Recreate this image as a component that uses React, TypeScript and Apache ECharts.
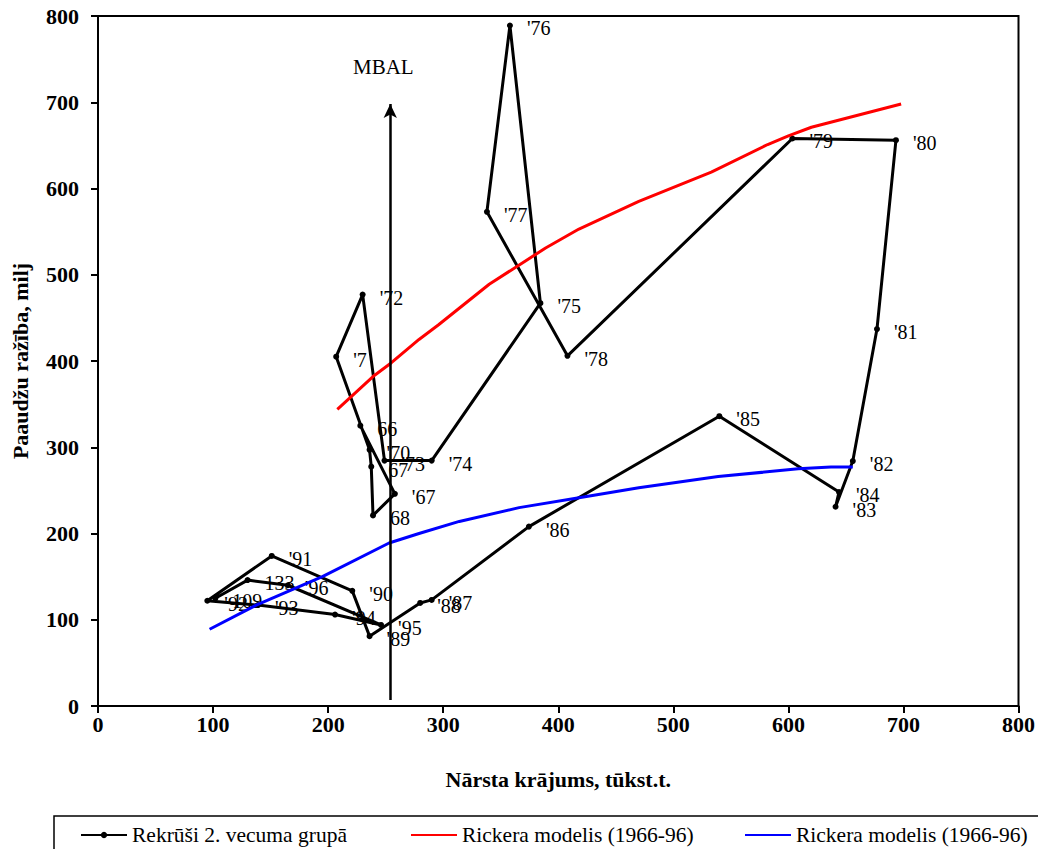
import React, { useEffect, useRef } from "react";
import * as echarts from "echarts";

// ---- data ----
const recruitLabels = [
  "66", "'67", "68", "67", "'70", "'7", "'72", "'73", "'74", "'75", "'76",
  "'77", "'78", "'79", "'80", "'81", "'82", "'83", "'84", "'85", "'86",
  "'87", "'88", "'89", "'90", "'91", "'92", "'93", "'94", "'95", "'96",
  "133", "109",
];
const recruitX = [
  228, 258, 239, 237.5, 236, 207, 230, 249, 290, 384.5, 358,
  338, 408, 603.5, 693.5, 677, 656, 641, 644, 540, 374.5,
  290, 280, 236, 221, 151, 95, 139, 206, 246, 165,
  130, 102,
];
const recruitY = [
  325, 246, 221, 277.5, 297, 405, 477, 284.5, 284.5, 467, 789,
  573, 406, 658, 656, 437, 284, 231, 248, 336, 208,
  123, 119.5, 81, 133.5, 174, 122, 117, 106, 94, 140,
  146, 125,
];

const rickerRedX = [208, 239, 255, 279, 296, 340, 389, 418, 470, 533, 582, 600, 620, 646, 698];
const rickerRedY = [344, 382, 398, 425, 442, 489, 531, 553, 585, 619, 651, 661, 671, 680, 698];

const rickerBlueX = [97, 137.5, 195, 253, 279, 314, 366, 418, 470, 539, 608.5, 637, 656];
const rickerBlueY = [89, 117, 150, 189, 200, 214, 230, 241.5, 253, 266, 275, 277, 277];

const MBAL = 254;
const MBAL_FROM = 7;
const MBAL_TO = 698;

const AXIS_MIN = 0;
const AXIS_MAX = 800;
const AXIS_STEP = 100;

const seriesNames = [
  "Rekrūši 2. vecuma grupā",
  "Rickera modelis (1966-96)",
  "Rickera modelis (1966-96) ",
];

export default function App() {
  const ref = useRef<HTMLDivElement>(null);

  useEffect(() => {
    const chart = echarts.init(ref.current!, null, { renderer: "svg" });
    const serif = "'Liberation Serif', 'Times New Roman', serif";

    const recruitData = recruitX.map((x, i) => ({
      value: [x, recruitY[i]],
      name: recruitLabels[i],
    }));
    const redData = rickerRedX.map((x, i) => [x, rickerRedY[i]]);
    const blueData = rickerBlueX.map((x, i) => [x, rickerBlueY[i]]);

    const legendCommon = {
      top: 819,
      itemWidth: 46,
      itemHeight: 8,
      formatter: (n: string) => n.trim(),
      textStyle: { fontFamily: serif, fontSize: 21.5, color: "#000" },
    };
    const plainIcon = {
      itemStyle: { color: "transparent", borderColor: "transparent", borderWidth: 0 },
    };

    chart.setOption({
      animation: false,
      backgroundColor: "#fff",
      grid: {
        left: 98,
        top: 16,
        right: 17,
        bottom: 143,
        show: true,
        borderColor: "#000",
        borderWidth: 2,
        backgroundColor: "transparent",
      },
      xAxis: {
        type: "value",
        min: AXIS_MIN,
        max: AXIS_MAX,
        interval: AXIS_STEP,
        name: "Nārsta krājums, tūkst.t.",
        nameLocation: "middle",
        nameGap: 62,
        nameTextStyle: { fontFamily: serif, fontWeight: "bold", fontSize: 22, color: "#000" },
        axisLine: { lineStyle: { color: "#000", width: 2 } },
        axisTick: { length: 7, lineStyle: { color: "#000", width: 2 } },
        axisLabel: { fontFamily: serif, fontWeight: "bold", fontSize: 22, color: "#000", margin: 7 },
        splitLine: { show: false },
      },
      yAxis: {
        type: "value",
        min: AXIS_MIN,
        max: AXIS_MAX,
        interval: AXIS_STEP,
        name: "Paaudžu ražība, milj",
        nameLocation: "middle",
        nameGap: 67,
        nameRotate: 90,
        nameTextStyle: { fontFamily: serif, fontWeight: "bold", fontSize: 22, color: "#000" },
        axisLine: { lineStyle: { color: "#000", width: 2 } },
        axisTick: { length: 7, lineStyle: { color: "#000", width: 2 } },
        axisLabel: { fontFamily: serif, fontWeight: "bold", fontSize: 22, color: "#000", margin: 19 },
        splitLine: { show: false },
      },
      legend: [
        { ...legendCommon, left: 75, data: [{ name: seriesNames[0] }] },
        { ...legendCommon, left: 405, data: [{ name: seriesNames[1], ...plainIcon }] },
        { ...legendCommon, left: 739, data: [{ name: seriesNames[2], ...plainIcon }] },
      ],
      graphic: [
        {
          type: "rect",
          shape: { x: 54, y: 816, width: 1000, height: 60 },
          style: { fill: "none", stroke: "#000", lineWidth: 1.5 },
          silent: true,
        },
      ],
      series: [
        {
          name: seriesNames[0],
          type: "line",
          data: recruitData,
          symbol: "circle",
          symbolSize: 6,
          itemStyle: { color: "#000" },
          lineStyle: { color: "#000", width: 3 },
          z: 2,
          label: {
            show: true,
            position: "right",
            distance: 14,
            offset: [0, 3],
            formatter: (p: any) => p.name,
            fontFamily: serif,
            fontSize: 20,
            color: "#000",
          },
        },
        {
          name: seriesNames[1],
          type: "line",
          data: redData,
          showSymbol: false,
          symbol: "none",
          lineStyle: { color: "#ff0000", width: 3 },
          itemStyle: { color: "#ff0000" },
          z: 3,
        },
        {
          name: seriesNames[2],
          type: "line",
          data: blueData,
          showSymbol: false,
          symbol: "none",
          lineStyle: { color: "#0000ff", width: 3 },
          itemStyle: { color: "#0000ff" },
          z: 4,
        },
        {
          name: "MBAL",
          type: "line",
          data: [],
          symbol: "none",
          z: 5,
          markLine: {
            silent: true,
            symbol: ["none", "arrow"],
            symbolSize: [10, 14],
            lineStyle: { color: "#000", width: 2.5, type: "solid" },
            label: { show: false },
            data: [[{ coord: [MBAL, MBAL_FROM] }, { coord: [MBAL, MBAL_TO] }]],
          },
          markPoint: {
            silent: true,
            symbol: "circle",
            symbolSize: 0,
            itemStyle: { color: "transparent" },
            label: {
              show: true,
              position: "inside",
              formatter: "MBAL",
              fontFamily: serif,
              fontSize: 21,
              color: "#000",
            },
            data: [{ coord: [MBAL - 6, 741] }],
          },
        },
      ],
    });

    return () => chart.dispose();
  }, []);

  return (
    <div
      ref={ref}
      style={{ position: "absolute", left: 0, top: 0, width: 1038, height: 849 }}
    />
  );
}
